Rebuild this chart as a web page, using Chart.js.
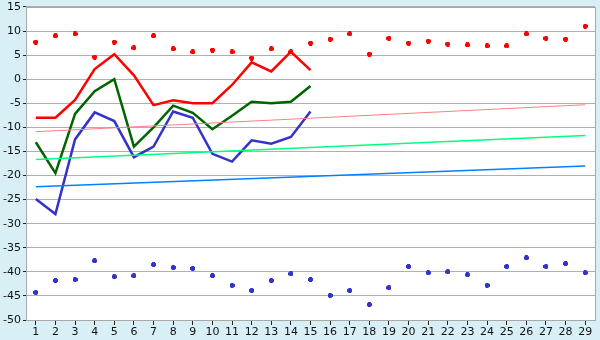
<!DOCTYPE html>
<html>
<head>
<meta charset="utf-8">
<script src="https://cdn.jsdelivr.net/npm/chart.js@4.4.0/dist/chart.umd.min.js"></script>
<style>
  html, body { margin: 0; padding: 0; background: #d9eff6; }
  #wrap { width: 600px; height: 340px; }
</style>
</head>
<body>
<div id="wrap"><canvas id="chart" width="600" height="340"></canvas></div>
<script>
// categories 1..29
const days = ['1','2','3','4','5','6','7','8','9','10','11','12','13','14','15',
              '16','17','18','19','20','21','22','23','24','25','26','27','28','29'];

// line series (days 1-15)
const redLine   = [-8, -8, -4.3, 2.1, 5.2, 0.8, -5.4, -4.4, -5.0, -5.0, -1.2, 3.5, 1.6, 5.7, 1.9];
const greenLine = [-13.1, -19.5, -7.2, -2.5, 0.0, -14.0, -10.0, -5.5, -7.0, -10.4, -7.6, -4.7, -5.0, -4.7, -1.4];
const blueLine  = [-24.9, -28.0, -12.5, -6.9, -8.7, -16.2, -14.0, -6.7, -8.0, -15.5, -17.1, -12.7, -13.4, -12.0, -6.7];

// scatter series (all days)
const redDots  = [7.7, 9.0, 9.4, 4.6, 7.7, 6.5, 9.0, 6.3, 5.65, 6.05, 5.65, 4.4, 6.3, 5.65, 7.5,
                  8.3, 9.4, 5.2, 8.5, 7.5, 7.9, 7.3, 7.1, 6.9, 6.9, 9.4, 8.5, 8.3, 11.0];
const blueDots = [-44.3, -41.8, -41.6, -37.7, -41.0, -40.8, -38.5, -39.1, -39.3, -40.8, -42.8, -43.9, -41.8, -40.4, -41.6,
                  -44.9, -43.9, -46.8, -43.3, -38.9, -40.2, -40.0, -40.6, -42.8, -38.9, -37.1, -38.9, -38.3, -40.2];

// trend lines: start and end values
const pinkTrend  = [-10.9, -5.3];
const greenTrend = [-16.7, -11.7];
const blueTrend  = [-22.35, -18.0];

const yTicks = { min: -50, max: 15, step: 5 };

// small plus-shaped marker
function plusMarker(color) {
    const c = document.createElement('canvas');
    c.width = 5; c.height = 5;
    const g = c.getContext('2d');
    g.fillStyle = color;
    g.fillRect(1, 0, 3, 5);
    g.fillRect(0, 1, 5, 3);
    return c;
}

function trend(vals) {
    return [{ x: days[0], y: vals[0] }, { x: days[days.length - 1], y: vals[1] }];
}

const frame = {
    id: 'frame',
    beforeDraw(chart) {
        const { ctx, chartArea: a } = chart;
        ctx.save();
        ctx.fillStyle = '#ffffff';
        ctx.fillRect(a.left, a.top, a.right - a.left, a.bottom - a.top);
        ctx.restore();
    },
    afterDraw(chart) {
        const { ctx, chartArea: a } = chart;
        ctx.save();
        ctx.strokeStyle = '#a8a8a8';
        ctx.lineWidth = 1;
        ctx.strokeRect(Math.round(a.left) + 0.5, Math.round(a.top) + 0.5,
                       Math.round(a.right - a.left), Math.round(a.bottom - a.top));
        ctx.restore();
    }
};

window.onload = function () {
    const ctx = document.getElementById('chart').getContext('2d');
    new Chart(ctx, {
        type: 'line',
        data: {
            labels: days,
            datasets: [
                { data: trend(pinkTrend), borderColor: '#ff8080', borderWidth: 1, pointRadius: 0 },
                { data: trend(greenTrend), borderColor: '#00ff80', borderWidth: 1.5, pointRadius: 0 },
                { data: trend(blueTrend), borderColor: '#0080ff', borderWidth: 1.5, pointRadius: 0 },
                { data: redLine, borderColor: '#ff0000', borderWidth: 2.5, pointRadius: 0 },
                { data: greenLine, borderColor: '#006400', borderWidth: 2.5, pointRadius: 0 },
                { data: blueLine, borderColor: '#3333cc', borderWidth: 2.5, pointRadius: 0 },
                { data: redDots, showLine: false, pointStyle: plusMarker('#ff0000'), pointRadius: 3 },
                { data: blueDots, showLine: false, pointStyle: plusMarker('#3333cc'), pointRadius: 3 }
            ]
        },
        options: {
            responsive: false,
            animation: false,
            layout: { padding: { top: 0, right: 5, left: 0, bottom: 0 } },
            plugins: { legend: { display: false }, tooltip: { enabled: false } },
            elements: { line: { tension: 0 } },
            scales: {
                x: {
                    offset: true,
                    grid: { drawOnChartArea: false, drawTicks: true, tickLength: 5, tickColor: '#222' },
                    border: { color: '#a8a8a8' },
                    ticks: { color: '#111', font: { family: 'DejaVu Sans', size: 11 }, padding: 1,
                             maxRotation: 0, autoSkip: false },
                    afterFit(s) { s.height = 20; }
                },
                y: {
                    min: yTicks.min,
                    max: yTicks.max,
                    grid: { color: '#b0b0b0', tickLength: 3, tickColor: '#222' },
                    border: { color: '#a8a8a8' },
                    ticks: { stepSize: yTicks.step, color: '#111',
                             font: { family: 'DejaVu Sans', size: 11, lineHeight: 0.9 }, padding: 2 },
                    afterFit(s) { s.width = 26; }
                }
            }
        },
        plugins: [frame]
    });
};
</script>
</body>
</html>
